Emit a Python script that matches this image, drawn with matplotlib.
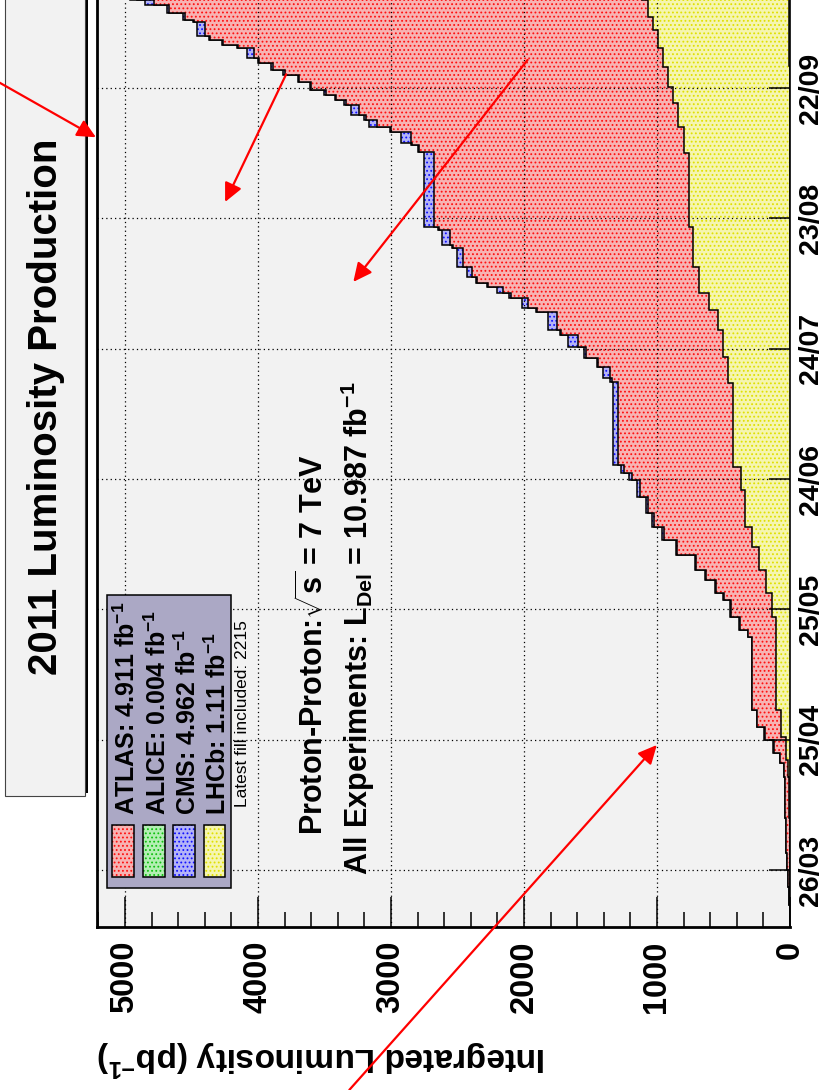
import matplotlib
matplotlib.use('Agg')
import matplotlib.pyplot as plt
from matplotlib.patches import Rectangle
from matplotlib.ticker import MultipleLocator

plt.rcParams['font.family'] = ['Liberation Sans', 'DejaVu Sans']
plt.rcParams['font.weight'] = 'bold'
plt.rcParams['mathtext.fontset'] = 'custom'
plt.rcParams['mathtext.rm'] = 'Liberation Sans:bold'
plt.rcParams['mathtext.it'] = 'Liberation Sans:bold'
plt.rcParams['mathtext.bf'] = 'Liberation Sans:bold'
plt.rcParams['mathtext.default'] = 'rm'
plt.rcParams['hatch.linewidth'] = 0.8

# =============================================================================
# data: day of year 2011 where a step starts, integrated lumi in pb^-1
# =============================================================================
days = [72, 77, 81, 85, 89, 97, 106.4, 109.6, 111.9, 114.9,
        117.9, 121.8, 138.6, 140.2, 143.2, 147.2, 148.8, 151.8, 154.1, 157.5,
        161, 164, 167.2, 170.9, 174.8, 176.5, 178.2,
        197.3, 198.3, 200.8, 202.9, 205.4, 208.2, 209.3, 213.5, 214.4, 216.7,
        217.8, 219.2, 220.1, 221.5, 223.8, 228.2, 228.9, 232.3, 233, 250.3,
        251.9, 252.4, 254.9, 256, 257.6, 258.8, 261.1, 262.2, 263.4, 264.6,
        266.4, 268, 269.2, 270.8, 271.9, 274.2, 274.9, 276, 277.1, 280.2,
        280.7, 282.3, 284.1, 285.3]
atlas = [0, 4, 15, 23, 30, 35, 45, 75, 124, 188,
         245, 282, 312, 376, 440, 493, 553, 629, 704, 850,
         950, 1020, 1070, 1130, 1190, 1250, 1295,
         1340, 1355, 1440, 1530, 1596, 1720, 1755, 1900, 1973, 2100,
         2160, 2270, 2350, 2387, 2462, 2530, 2553, 2640, 2673, 2790,
         2840, 2846, 3000, 3102, 3190, 3238, 3340, 3410, 3490, 3600,
         3690, 3800, 3890, 3990, 4029, 4150, 4260, 4360, 4398, 4480,
         4550, 4670, 4780, 4911]
cms = [0, 4, 15, 24, 31, 36, 47, 78, 128, 193,
       250, 287, 317, 382, 448, 500, 561, 637, 714, 860,
       962, 1035, 1085, 1150, 1210, 1270, 1330,
       1355, 1408, 1450, 1545, 1670, 1730, 1822, 1910, 2018, 2110,
       2206, 2280, 2360, 2432, 2507, 2540, 2613, 2650, 2752, 2800,
       2850, 2922, 3010, 3163, 3200, 3298, 3350, 3420, 3500, 3610,
       3700, 3810, 3900, 4000, 4081, 4160, 4270, 4370, 4458, 4490,
       4560, 4680, 4850, 4962]

lhcb_days = [72, 97, 106.4, 110.3, 115.6, 121.8, 143.2, 148.8, 154.1, 159.4,
             164, 172.5, 177.8, 197.1, 203.1, 209.3, 213.9, 217.8, 223.8, 233,
             250, 256, 261.6, 265.2, 269.9, 274.2, 278.4, 281.4, 285.3]
lhcb = [0, 4, 12, 30, 64, 102, 139, 184, 230, 282,
        335, 365, 429, 463, 501, 538, 610, 681, 727, 760,
        794, 840, 877, 915, 953, 990, 1028, 1066, 1110]

alice_days = [205, 225, 250, 270]
alice = [1, 2, 3, 4]

last_day = 288

tick_days = [85, 115, 145, 175, 205, 235, 265]
tick_labels = ['26/03', '25/04', '25/05', '24/06', '24/07', '23/08', '22/09']
lumi_ticks = [0, 1000, 2000, 3000, 4000, 5000]

experiments = ['ATLAS', 'ALICE', 'CMS', 'LHCb']
totals = ['4.911', '0.004', '4.962', '1.11']

# face colour, dot colour
styles = {'ATLAS': ('#f7b3b3', '#ff1010'),
          'ALICE': ('#b3efb3', '#10c010'),
          'CMS': ('#b3b3f7', '#1010ff'),
          'LHCb': ('#f5f5b0', '#e0e000')}

# =============================================================================
# figure (the whole ROOT canvas is turned a quarter turn)
# =============================================================================
W, H = 825, 1090
fig = plt.figure(figsize=(W / 100, H / 100), dpi=100)

day_lo, day_hi = 71.9, 290
px_day = 4.344
ax_top = 927 - (day_hi - day_lo) * px_day
ax = fig.add_axes([97 / W, 1 - 927 / H, (790 - 97) / W, (927 - ax_top) / H])
ax.set_facecolor('#f2f2f2')
ax.set_xlim(5210, 0)
ax.set_ylim(day_lo, day_hi)


def lumi(ax, vals, edges, name):
    face, dots = styles[name]
    ax.stairs(vals, edges, orientation='horizontal', baseline=0, fill=True,
              facecolor=face, edgecolor=dots, hatch='....', linewidth=0)
    ax.stairs(vals, edges, orientation='horizontal', baseline=0,
              color='black', linewidth=1.1)


lumi(ax, cms, days + [last_day], 'CMS')
lumi(ax, atlas, days + [last_day], 'ATLAS')
lumi(ax, lhcb, lhcb_days + [last_day], 'LHCb')
lumi(ax, alice, alice_days + [last_day], 'ALICE')

ax.set_axisbelow(False)
ax.grid(True, which='major', color='black', linestyle=(0, (1, 2.5)),
        linewidth=0.9)

ax.set_xticks(lumi_ticks)
ax.xaxis.set_minor_locator(MultipleLocator(200))
ax.tick_params(axis='x', which='major', direction='in', length=21.6,
               width=1.1, pad=10, labelsize=23.5, labelrotation=90)
ax.tick_params(axis='x', which='minor', direction='in', length=10.8,
               width=1.1)

ax.yaxis.tick_right()
ax.set_yticks(tick_days, tick_labels)
ax.tick_params(axis='y', which='major', direction='in', length=15,
               width=1.1, pad=6, labelsize=20.5, labelrotation=90)
for lbl in ax.get_yticklabels():
    lbl.set_va('center')

for side in ['left', 'bottom', 'top']:
    ax.spines[side].set_linewidth(2.0)
ax.spines['right'].set_linewidth(1.2)


def fx(x):
    return x / W


def fy(y):
    return 1 - y / H


def box(x0, y0, x1, y1, **kw):
    r = Rectangle((fx(x0), fy(y1)), (x1 - x0) / W, (y1 - y0) / H,
                  transform=fig.transFigure, clip_on=False, **kw)
    ax.add_patch(r)


def label(x, y, s, size, rot=90, ha='left', weight='bold'):
    ax.text(fx(x), fy(y), s, transform=fig.transFigure, rotation=rot,
            rotation_mode='anchor', ha=ha, va='baseline', fontsize=size,
            fontweight=weight, clip_on=False, zorder=7)


# axis title, upside down
label(97, 1047, 'Integrated Luminosity (pb$^{-1}$)', 24, rot=180, ha='right')

# title pave with its shadow
box(8, -30, 88, 793, facecolor='black', edgecolor='none', zorder=5)
box(5, -30, 85, 796, facecolor='#f2f2f2', edgecolor='#444444',
    linewidth=0.8, zorder=5)
label(57, 675, '2011 Luminosity Production', 29)

# legend
box(107, 595, 231, 888, facecolor='#aba8c5', edgecolor='black',
    linewidth=1.1, zorder=5)
for i, name in enumerate(experiments):
    face, dots = styles[name]
    x0 = 112 + 30.5 * i
    box(x0, 825, x0 + 22, 877, facecolor=face, edgecolor=dots,
        hatch='....', linewidth=0, zorder=6)
    box(x0, 825, x0 + 22, 877, facecolor='none', edgecolor='black',
        linewidth=1.1, zorder=6)
    label(x0 + 23, 815, name + ': ' + totals[i] + ' fb$^{-1}$', 18)
label(247, 807, 'Latest fill included: 2215', 12.5, weight='normal')

label(323, 835, r'Proton-Proton:$\sqrt{s}$ = 7 TeV', 22)
label(368, 875, 'All Experiments: L$_{Del}$ = 10.987 fb$^{-1}$', 22)

# red arrows drawn over the plot, (lumi, day) coordinates
arrows = [((5950, 266.4), (5218, 253.7)),
          ((3788, 268.2), (4247, 238.8)),
          ((1973, 271.5), (3283, 220.4)),
          ((3313, 34.4), (1001, 113.8))]
for start, tip in arrows:
    ax.annotate('', xy=tip, xytext=start, annotation_clip=False, zorder=10,
                arrowprops=dict(arrowstyle='-|>,head_length=0.75,head_width=0.36',
                                color='red', lw=1.6, shrinkA=0, shrinkB=0,
                                mutation_scale=15))

fig.savefig('out.png', dpi=100)
